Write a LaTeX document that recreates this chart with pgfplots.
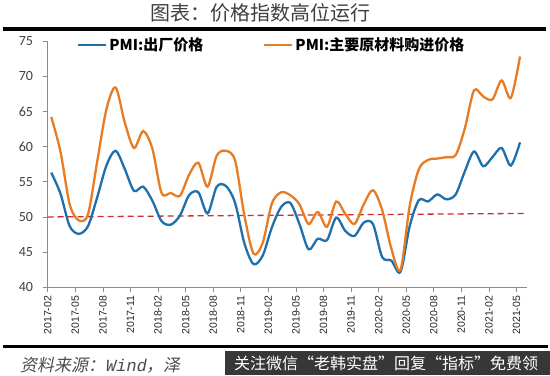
\documentclass[border=0pt]{standalone}
\usepackage{pgfplots}
\usepackage{pgfplotstable}
\pgfplotsset{compat=1.18}
\usepackage{fontspec}
\setmainfont{Carlito}
\newfontfamily\cjk{Noto Sans CJK SC}
\newfontfamily\cjkslant[FakeSlant=0.2]{Noto Sans CJK SC}
\newfontfamily\arialf{Liberation Sans}
\newfontfamily\monoslant[FakeSlant=0.2]{Liberation Mono}
\definecolor{pblue}{RGB}{30,112,172}
\definecolor{porange}{RGB}{230,124,36}
\definecolor{pred}{RGB}{205,45,45}
\pgfplotstableread{
i inp outp
0 64.2 56.3
1 59.3 53.3
2 51.8 48.7
3 49.5 47.6
4 50.4 48.7
5 57.9 52.8
6 65.3 57.3
7 68.4 59.4
8 63.4 56.8
9 59.8 53.7
10 62.2 54.3
11 59.7 52.3
12 53.4 49.4
13 53.4 48.9
14 53.0 50.2
15 56.0 53.1
16 57.7 53.5
17 54.3 50.5
18 58.7 54.3
19 59.4 54.4
20 58.0 52.0
21 50.3 46.3
22 44.8 43.3
23 46.3 44.5
24 51.9 48.5
25 53.5 51.4
26 53.1 52.0
27 51.8 49.0
28 49.0 45.4
29 50.7 46.9
30 48.6 46.7
31 52.2 49.9
32 50.4 48.0
33 49.0 47.3
34 51.8 49.2
35 53.8 49.0
36 51.0 44.3
37 45.5 43.8
38 42.5 42.2
39 51.6 48.7
40 56.8 52.4
41 58.1 52.2
42 58.3 53.2
43 58.5 52.5
44 58.8 53.2
45 62.6 56.5
46 68.0 59.3
47 67.1 57.2
48 66.7 58.5
49 69.4 59.8
50 66.9 57.3
51 72.8 60.6
}\pmidata
\begin{document}
\begin{tikzpicture}[x=1bp,y=1bp]
\useasboundingbox (0,0) rectangle (550,-375);
\fill[white] (0,0) rectangle (550,-375);
\node[font=\cjk\fontsize{20bp}{22bp}\selectfont, text=black!75] at (260,-13) {图表：价格指数高位运行};
\fill[black] (3,-26.7) rectangle (546,-30.7);
\begin{axis}[
  at={(47.6bp,-287.3bp)}, anchor=south west,
  scale only axis, width=479.1bp, height=246.3bp,
  xmin=-0.4, xmax=51.73, ymin=40, ymax=75,
  axis lines*=left,
  axis line style={draw=black!45, line width=0.8bp},
  tick align=outside, major tick length=5bp,
  tick style={draw=black!45, line width=0.8bp},
  xtick={-0.38,2.62,5.62,8.62,11.62,14.62,17.62,20.62,23.62,26.62,29.62,32.62,35.62,38.62,41.62,44.62,47.62,50.62},
  xticklabels={2017-02,2017-05,2017-08,2017-11,2018-02,2018-05,2018-08,2018-11,2019-02,2019-05,2019-08,2019-11,2020-02,2020-05,2020-08,2020-11,2021-02,2021-05},
  ytick={40,45,...,75},
  /pgf/number format/assume math mode=true,
  xticklabel style={rotate=90, anchor=east, font=\arialf\fontsize{10.5bp}{12bp}\selectfont, text=black!85},
  yticklabel style={font=\fontsize{14bp}{16bp}\selectfont, text=black!75, xshift=-6bp},
  legend style={at={(0.055,0.985)}, anchor=west, legend columns=2, draw=none, fill=none,
    font=\cjk\bfseries\fontsize{15bp}{17bp}\selectfont,
    /tikz/every even column/.append style={column sep=58bp}},
  legend image code/.code={\draw[#1, line width=2.2bp] (0bp,0bp) -- (28bp,0bp);},
]
\addplot[forget plot, color=pred, line width=1.3bp, dash pattern=on 6bp off 4bp] coordinates {(-0.4,50) (51.73,50.5)};
\addplot[smooth, tension=0.5, color=pblue, line width=2.3bp] table[x=i,y=outp]{\pmidata};
\addlegendentry{PMI:出厂价格}
\addplot[smooth, tension=0.5, color=porange, line width=2.3bp] table[x=i,y=inp]{\pmidata};
\addlegendentry{PMI:主要原材料购进价格}
\end{axis}
\fill[black] (3,-344.5) rectangle (548,-348);
\node[anchor=west, inner sep=0pt, text=black!70, font=\fontsize{17bp}{19bp}\selectfont] at (20,-365.5) {\cjkslant 资料来源：\monoslant Wind\cjkslant ，泽};
\fill[black!85, opacity=0.92] (225,-351) rectangle (550,-375);
\node[anchor=west, inner sep=0pt, text=white, font=\cjk\fontsize{16bp}{18bp}\selectfont] at (234,-363) {关注微信“老韩实盘”回复“指标”免费领};
\end{tikzpicture}
\end{document}
